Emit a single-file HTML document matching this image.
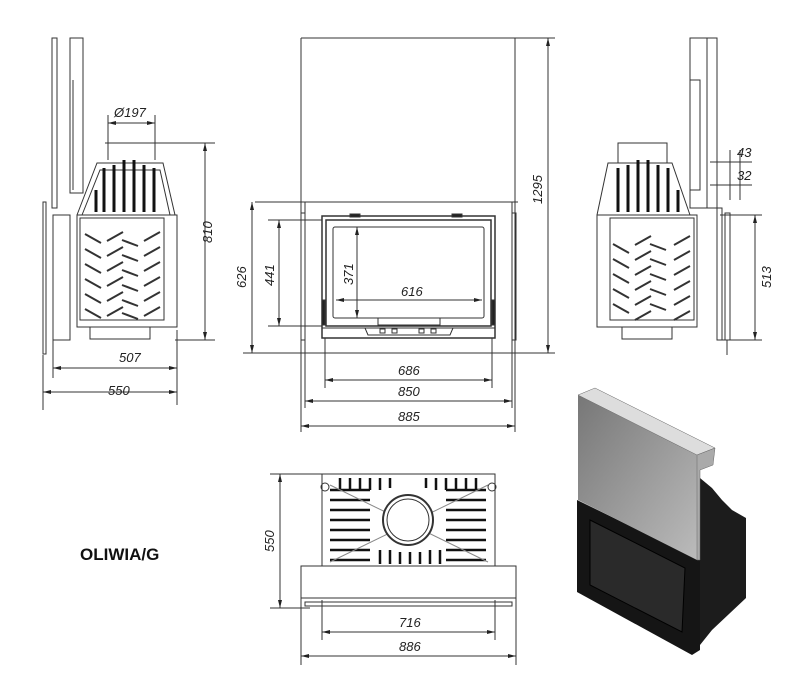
<!DOCTYPE html>
<html><head><meta charset="utf-8"><style>
html,body{margin:0;padding:0;background:#fff}
svg{display:block}
text{font-family:"Liberation Sans",sans-serif;font-style:italic;font-size:13px;fill:#222}
</style></head><body>
<svg width="800" height="700" viewBox="0 0 800 700" xmlns="http://www.w3.org/2000/svg">
<defs>
<marker id="a" markerWidth="8" markerHeight="6" refX="8" refY="3" orient="auto-start-reverse" markerUnits="userSpaceOnUse"><path d="M0,1 L8,3 L0,5z" fill="#222"/></marker>
<linearGradient id="g" x1="0" y1="0" x2="1" y2="1"><stop offset="0" stop-color="#777"/><stop offset=".5" stop-color="#999"/><stop offset="1" stop-color="#bbb"/></linearGradient>
</defs>
<g stroke="#333" stroke-width="1" fill="none">
<!-- LEFT SIDE VIEW -->
<rect x="52" y="38" width="5" height="170"/>
<rect x="70" y="38" width="13" height="155"/>
<line x1="73" y1="80" x2="73" y2="190"/>
<rect x="43" y="202" width="3" height="152"/>
<rect x="53" y="215" width="17" height="125"/>
<rect x="77" y="215" width="100" height="112"/>
<rect x="80" y="218" width="84" height="102"/>
<path d="M77,215 L97,163 L163,163 L175,215"/>
<path d="M82,215 L100,170 L160,170 L170,215"/>
<g stroke="#111" stroke-width="3">
<line x1="104" y1="168" x2="104" y2="212"/><line x1="114" y1="165" x2="114" y2="212"/><line x1="124" y1="160" x2="124" y2="212"/><line x1="134" y1="160" x2="134" y2="212"/><line x1="144" y1="165" x2="144" y2="212"/><line x1="154" y1="168" x2="154" y2="212"/><line x1="96" y1="190" x2="96" y2="212"/>
</g>
<g stroke="#333" stroke-width="2">
<path d="M85,234 l16,9 M85,249 l16,9 M85,264 l16,9 M85,279 l16,9 M85,294 l16,9 M85,309 l16,9"/>
<path d="M123,232 l-16,9 M123,247 l-16,9 M123,262 l-16,9 M123,277 l-16,9 M123,292 l-16,9 M123,307 l-16,9"/>
<path d="M122,240 l16,6 M122,255 l16,6 M122,270 l16,6 M122,285 l16,6 M122,300 l16,6 M122,313 l16,6"/>
<path d="M160,232 l-16,9 M160,247 l-16,9 M160,262 l-16,9 M160,277 l-16,9 M160,292 l-16,9 M160,307 l-16,9"/>
</g>
<rect x="90" y="327" width="60" height="12"/>
<!-- left dims -->
<line x1="108" y1="115" x2="108" y2="160"/><line x1="155" y1="115" x2="155" y2="160"/>
<line x1="108" y1="123" x2="155" y2="123" marker-start="url(#a)" marker-end="url(#a)"/>
<line x1="105" y1="143" x2="215" y2="143"/><line x1="175" y1="340" x2="215" y2="340"/>
<line x1="205" y1="143" x2="205" y2="340" marker-start="url(#a)" marker-end="url(#a)"/>
<line x1="53" y1="340" x2="53" y2="378"/><line x1="177" y1="330" x2="177" y2="405"/><line x1="43" y1="355" x2="43" y2="410"/>
<line x1="53" y1="368" x2="177" y2="368" marker-start="url(#a)" marker-end="url(#a)"/>
<line x1="43" y1="392" x2="177" y2="392" marker-start="url(#a)" marker-end="url(#a)"/>

<!-- FRONT VIEW -->
<line x1="301" y1="38" x2="515" y2="38"/><line x1="515" y1="38" x2="555" y2="38"/>
<line x1="301" y1="38" x2="301" y2="432"/><line x1="515" y1="38" x2="515" y2="432"/>
<line x1="255" y1="202" x2="518" y2="202"/>
<rect x="301" y="213" width="4" height="127"/><rect x="512" y="213" width="4" height="127"/>
<line x1="305" y1="202" x2="305" y2="408"/><line x1="512" y1="202" x2="512" y2="408"/>
<rect x="322" y="216" width="173" height="122" stroke-width="1.5"/>
<rect x="326" y="220" width="165" height="106" stroke-width="1.5"/>
<rect x="333" y="227" width="151" height="91" rx="2"/>
<rect x="378" y="318" width="62" height="7"/>
<line x1="322" y1="328" x2="495" y2="328"/>
<path d="M365,328 L368,335 L450,335 L453,328"/>
<rect x="380" y="329" width="5" height="4"/><rect x="392" y="329" width="5" height="4"/><rect x="419" y="329" width="5" height="4"/><rect x="431" y="329" width="5" height="4"/>
<rect x="350" y="214" width="10" height="3" fill="#222"/><rect x="452" y="214" width="10" height="3" fill="#222"/>
<rect x="322" y="300" width="3" height="25" fill="#222"/><rect x="492" y="300" width="3" height="25" fill="#222"/>
<line x1="243" y1="353" x2="555" y2="353"/>
<line x1="252" y1="202" x2="252" y2="353" marker-start="url(#a)" marker-end="url(#a)"/>
<line x1="268" y1="220" x2="322" y2="220"/><line x1="268" y1="326" x2="322" y2="326"/>
<line x1="279" y1="220" x2="279" y2="326" marker-start="url(#a)" marker-end="url(#a)"/>
<line x1="357" y1="227" x2="357" y2="318" marker-start="url(#a)" marker-end="url(#a)"/>
<line x1="336" y1="300" x2="482" y2="300" marker-start="url(#a)" marker-end="url(#a)"/>
<line x1="548" y1="38" x2="548" y2="353" marker-start="url(#a)" marker-end="url(#a)"/>
<line x1="325" y1="338" x2="325" y2="388"/><line x1="492" y1="338" x2="492" y2="388"/>
<line x1="325" y1="380" x2="492" y2="380" marker-start="url(#a)" marker-end="url(#a)"/>
<line x1="305" y1="401" x2="512" y2="401" marker-start="url(#a)" marker-end="url(#a)"/>
<line x1="301" y1="426" x2="515" y2="426" marker-start="url(#a)" marker-end="url(#a)"/>

<!-- RIGHT SIDE VIEW -->
<rect x="690" y="38" width="27" height="170"/>
<line x1="707" y1="38" x2="707" y2="208"/>
<rect x="690" y="80" width="10" height="110"/>
<rect x="717" y="208" width="5" height="132"/><rect x="725" y="213" width="5" height="127"/>
<line x1="727" y1="340" x2="727" y2="355"/>
<rect x="597" y="215" width="100" height="112"/>
<rect x="610" y="218" width="84" height="102"/>
<path d="M597,215 L608,163 L672,163 L690,215"/>
<rect x="618" y="143" width="49" height="20"/>
<g stroke="#111" stroke-width="3">
<line x1="618" y1="168" x2="618" y2="212"/><line x1="628" y1="165" x2="628" y2="212"/><line x1="638" y1="160" x2="638" y2="212"/><line x1="648" y1="160" x2="648" y2="212"/><line x1="658" y1="165" x2="658" y2="212"/><line x1="668" y1="168" x2="668" y2="212"/><line x1="678" y1="190" x2="678" y2="212"/>
</g>
<g stroke="#333" stroke-width="2">
<path d="M613,244 l16,9 M613,259 l16,9 M613,274 l16,9 M613,289 l16,9 M613,304 l16,9"/>
<path d="M651,236 l-16,9 M651,251 l-16,9 M651,266 l-16,9 M651,281 l-16,9 M651,296 l-16,9 M651,311 l-16,9"/>
<path d="M650,244 l16,6 M650,259 l16,6 M650,274 l16,6 M650,289 l16,6 M650,304 l16,6"/>
<path d="M690,236 l-16,9 M690,251 l-16,9 M690,266 l-16,9 M690,281 l-16,9 M690,296 l-16,9 M690,311 l-16,9"/>
</g>
<rect x="622" y="327" width="50" height="12"/>
<line x1="730" y1="150" x2="730" y2="200"/><line x1="740" y1="150" x2="740" y2="200"/>
<line x1="710" y1="162" x2="752" y2="162"/><line x1="710" y1="185" x2="752" y2="185"/>
<line x1="720" y1="215" x2="762" y2="215"/><line x1="722" y1="340" x2="762" y2="340"/>
<line x1="755" y1="215" x2="755" y2="340" marker-start="url(#a)" marker-end="url(#a)"/>

<!-- TOP VIEW -->
<rect x="322" y="474" width="173" height="92"/>
<g stroke="#111" stroke-width="2.5">
<path d="M330,490h40M330,500h40M330,510h40M330,520h40M330,530h40M330,540h40M330,550h40M330,560h40"/>
<path d="M446,490h40M446,500h40M446,510h40M446,520h40M446,530h40M446,540h40M446,550h40M446,560h40"/>
<path d="M340,478v12M350,478v12M360,478v12M370,478v12M380,478v12M390,478v10M426,478v10M436,478v12M446,478v12M456,478v12M466,478v12M476,478v12"/>
<path d="M380,550v14M390,550v14M400,552v12M410,552v12M420,552v12M430,550v14M440,550v14"/>
</g>
<line x1="330" y1="485" x2="488" y2="562" stroke="#888"/><line x1="488" y1="485" x2="330" y2="562" stroke="#888"/>
<circle cx="408" cy="520" r="25" fill="#fff" stroke-width="2"/>
<circle cx="408" cy="520" r="21" fill="#fff"/>
<circle cx="325" cy="487" r="4"/><circle cx="492" cy="487" r="4"/>
<rect x="301" y="566" width="215" height="32"/>
<rect x="305" y="602" width="207" height="4"/>
<line x1="270" y1="474" x2="322" y2="474"/><line x1="270" y1="608" x2="310" y2="608"/>
<line x1="280" y1="474" x2="280" y2="608" marker-start="url(#a)" marker-end="url(#a)"/>
<line x1="322" y1="600" x2="322" y2="640"/><line x1="495" y1="600" x2="495" y2="640"/>
<line x1="322" y1="632" x2="495" y2="632" marker-start="url(#a)" marker-end="url(#a)"/>
<line x1="301" y1="598" x2="301" y2="665"/><line x1="516" y1="598" x2="516" y2="665"/>
<line x1="301" y1="656" x2="516" y2="656" marker-start="url(#a)" marker-end="url(#a)"/>
</g>

<!-- 3D -->
<g>
<polygon points="700,478 712,488 722,500 732,510 746,518 746,598 712,630 700,645" fill="#1c1c1c"/>
<polygon points="577,500 700,560 700,650 692,655 577,592" fill="#151515"/>
<polygon points="590,520 685,568 682,632 590,585" fill="#2a2a2a" stroke="#000"/>
<polygon points="578,395 697,455 697,560 578,500" fill="url(#g)"/>
<polygon points="578,395 595,388 715,448 697,455" fill="#ddd" stroke="#666" stroke-width=".5"/>
<polygon points="697,455 715,448 713,465 700,470 700,560 697,560" fill="#aaa" stroke="#666" stroke-width=".5"/>
</g>

<!-- TEXT -->
<text x="114" y="117">Ø197</text>
<text transform="translate(212,243) rotate(-90)">810</text>
<text x="119" y="362">507</text>
<text x="108" y="395">550</text>
<text transform="translate(246,288) rotate(-90)">626</text>
<text transform="translate(274,286) rotate(-90)">441</text>
<text transform="translate(353,285) rotate(-90)">371</text>
<text x="401" y="296">616</text>
<text transform="translate(542,204) rotate(-90)">1295</text>
<text x="398" y="375">686</text>
<text x="398" y="396">850</text>
<text x="398" y="421">885</text>
<text x="737" y="157">43</text>
<text x="737" y="180">32</text>
<text transform="translate(771,288) rotate(-90)">513</text>
<text transform="translate(274,552) rotate(-90)">550</text>
<text x="399" y="627">716</text>
<text x="399" y="651">886</text>
<text x="80" y="560" style="font-style:normal;font-weight:bold;font-size:17px;fill:#111">OLIWIA/G</text>
</svg>
</body></html>
